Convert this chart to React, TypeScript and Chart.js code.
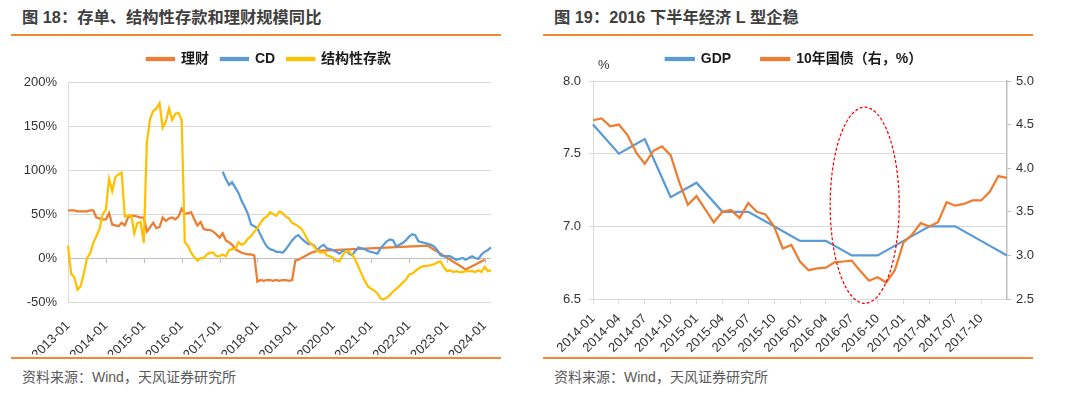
import React, { useEffect, useRef } from "react";
import { Chart, registerables } from "chart.js";

Chart.register(...registerables);

const FONT_FAMILY = '"Liberation Sans", "Noto Sans CJK SC", Arial, sans-serif';
const ORANGE = "#ED7D31";
const BLUE = "#5B9BD5";
const YELLOW = "#FFC000";
const GRID = "#d9d9d9";
const AXIS = "#bfbfbf";
const TICK_TEXT = "#333333";
const RULE = "#EE8A34";

// ---------- Figure 18 ----------
const fig18Title = "图 18：存单、结构性存款和理财规模同比";
const fig18Source = "资料来源：Wind，天风证券研究所";
const fig18Legend = ["理财", "CD", "结构性存款"];
const fig18Months: string[] = [];
for (let y = 2013; y <= 2024; y++) {
  for (let m = 1; m <= 12; m++) {
    if (y === 2024 && m > 3) break;
    fig18Months.push(`${y}-${String(m).padStart(2, "0")}`);
  }
}
const fig18YRange = [-50, 200];
const fig18YStep = 50;

// 理财
const wealthYoY: (number | null)[] = [
  54, 54, 54, 53, 53, 53, 53, 54, 54, 46, 45, 44,
  44, 51, 38, 37, 36, 40, 37, 46, 48, 48, 47, 46,
  46, 30, 35, 40, 34, 35, 46, 42, 45, 46, 44, 47,
  56, 50, 51, 52, 44, 37, 41, 33, 32, 32, 30, 27,
  23, 28, 20, 18, 15, 10, 8, 6, 5, 4, 4, 3,
  -27, -25, -26, -25, -25, -26, -25, -26, -25, -25, -26, -25,
  -3, -2, 0, 2, 4, 6, 7, 8, null, null, null, null,
  null, null, null, null, null, null, null, null, null, null, null, null,
  null, null, null, null, null, null, null, null, null, null, null, null,
  null, null, null, null, null, null, 14, null, null, null, null, null,
  null, null, null, null, null, null, -13, null, null, null, null, null,
  -2, null, null,
];

// CD
const cdYoY: (number | null)[] = [
  null, null, null, null, null, null, null, null, null, null, null, null,
  null, null, null, null, null, null, null, null, null, null, null, null,
  null, null, null, null, null, null, null, null, null, null, null, null,
  null, null, null, null, null, null, null, null, null, null, null, null,
  null, 98, 90, 83, 86, 80, 74, 65, 58, 50, 38, 36,
  34, 26, 19, 13, 10, 9, 7, 7, 6, 10, 15, 20,
  24, 26, 22, 19, 16, 16, 14, 9, 13, 15, 11, 10,
  9, 7, 5, 8, 9, 5, 3, 8, 12, 11, 10, 8,
  7, 6, 5, 11, 15, 19, 21, 20, 13, 15, 17, 20,
  24, 27, 26, 19, 18, 17, 16, 15, 13, 9, 3, 2,
  2, 2, 0, -2, -1, 0, -2, 0, 2, 0, -1, 4,
  7, 9, 12,
];

// 结构性存款
const structDepositYoY: (number | null)[] = [
  14, -18, -22, -36, -32, -18, 0, 5, 17, 25, 33, 50,
  55, 90, 76, 92, 95, 97, 47, 48, 49, 28, 40, 41,
  17, 132, 158, 167, 170, 176, 148, 155, 170, 157, 164, 165,
  157, 18, 14, 6, 1, -3, 0, 0, 4, 6, 6, 2,
  2, 4, 2, 9, 10, 10, 18, 15, 17, 22, 25, 30,
  34, 40, 45, 47, 52, 50, 48, 53, 51, 47, 45, 40,
  38, 36, 33, 27, 20, 16, 13, 8, 6, 7, 3, 2,
  0, -3, -4, 3, 8, 7, 4, -2, -10, -18, -26, -32,
  -35, -37, -40, -46, -47, -45, -42, -38, -35, -32, -28, -25,
  -19, -18, -15, -12, -10, -9, -9, -8, -7, -5, -4, -10,
  -15, -14, -16, -15, -16, -16, -15, -15, -15, -16, -14, -16,
  -10, -15, -14,
];

// ---------- Figure 19 ----------
const fig19Title = "图 19：2016 下半年经济 L 型企稳";
const fig19Source = "资料来源：Wind，天风证券研究所";
const fig19Legend = ["GDP", "10年国债（右，%）"];
const fig19Unit = "%";
const fig19Months: string[] = [];
for (let y = 2014; y <= 2018; y++) {
  for (let m = 1; m <= 12; m++) {
    if (y === 2018 && m > 1) break;
    fig19Months.push(`${y}-${String(m).padStart(2, "0")}`);
  }
}
const fig19LeftRange = [6.5, 8.0];
const fig19RightRange = [2.5, 5.0];

const gdpYoY: (number | null)[] = [
  7.7, null, null, 7.5, null, null, 7.6, null, null, 7.2, null, null,
  7.3, null, null, 7.1, null, null, 7.1, null, null, 7.0, null, null,
  6.9, null, null, 6.9, null, null, 6.8, null, null, 6.8, null, null,
  6.9, null, null, 7.0, null, null, 7.0, null, null, 6.9, null, null,
  6.8,
];

const bond10y: number[] = [
  4.55, 4.57, 4.48, 4.5, 4.38, 4.18, 4.05, 4.2, 4.25, 4.15, 3.84, 3.58,
  3.68, 3.53, 3.38, 3.5, 3.52, 3.43, 3.6, 3.5, 3.47, 3.33, 3.08, 3.12,
  2.93, 2.83, 2.85, 2.86, 2.92, 2.93, 2.94, 2.82, 2.71, 2.75, 2.69, 2.83,
  3.15, 3.24, 3.37, 3.33, 3.38, 3.61, 3.57, 3.59, 3.63, 3.63, 3.73, 3.91,
  3.89,
];

// highlight ellipse (category index range, left-axis value range)
const fig19HighlightX = [27.5, 35.5];
const fig19HighlightY = [6.47, 7.82];

function legendGap(extra: number) {
  return {
    id: "legendGap",
    afterInit(chart: any) {
      const legend = chart.legend;
      if (!legend || legend.__patched) return;
      const fit = legend.fit;
      legend.fit = function () {
        fit.call(this);
        this.height += extra;
      };
      legend.__patched = true;
    },
  };
}

const zeroTicks = {
  id: "zeroTicks",
  beforeDatasetsDraw(chart: any) {
    const { ctx, scales } = chart;
    const x = scales.x;
    const y = scales.y;
    const y0 = y.getPixelForValue(0);
    ctx.save();
    ctx.strokeStyle = AXIS;
    ctx.lineWidth = 1;
    ctx.beginPath();
    ctx.moveTo(x.left, Math.round(y0) + 0.5);
    ctx.lineTo(x.right, Math.round(y0) + 0.5);
    for (let i = 0; i < fig18Months.length; i += 12) {
      const px = Math.round(x.getPixelForValue(i)) + 0.5;
      ctx.moveTo(px, y0);
      ctx.lineTo(px, y0 + 5);
    }
    ctx.stroke();
    ctx.restore();
  },
};

const highlightEllipse = {
  id: "highlightEllipse",
  afterDatasetsDraw(chart: any) {
    const { ctx, scales } = chart;
    const x = scales.x;
    const y = scales.y;
    const x1 = x.getPixelForValue(fig19HighlightX[0]);
    const x2 = x.getPixelForValue(fig19HighlightX[1]);
    const y1 = y.getPixelForValue(fig19HighlightY[1]);
    const y2 = y.getPixelForValue(fig19HighlightY[0]);
    ctx.save();
    ctx.strokeStyle = "#FF0000";
    ctx.lineWidth = 1.25;
    ctx.setLineDash([3, 2]);
    ctx.beginPath();
    ctx.ellipse((x1 + x2) / 2, (y1 + y2) / 2, (x2 - x1) / 2, (y2 - y1) / 2, 0, 0, Math.PI * 2);
    ctx.stroke();
    ctx.restore();
  },
};

export default function App() {
  const leftRef = useRef<HTMLCanvasElement | null>(null);
  const rightRef = useRef<HTMLCanvasElement | null>(null);

  useEffect(() => {
    const tickFont = { family: FONT_FAMILY, size: 13 };
    const legendFont = { family: FONT_FAMILY, size: 14, weight: "bold" as const };

    const left = new Chart(leftRef.current!, {
      type: "line",
      data: {
        labels: fig18Months,
        datasets: [
          { label: fig18Legend[0], data: wealthYoY, borderColor: ORANGE, backgroundColor: ORANGE, order: 2, spanGaps: true },
          { label: fig18Legend[1], data: cdYoY, borderColor: BLUE, backgroundColor: BLUE, order: 1, spanGaps: true },
          { label: fig18Legend[2], data: structDepositYoY, borderColor: YELLOW, backgroundColor: YELLOW, order: 0, spanGaps: true },
        ],
      },
      options: {
        responsive: false,
        animation: false,
        elements: { point: { radius: 0 }, line: { borderWidth: 2.25, tension: 0 } },
        layout: { padding: { left: 0, right: 0, top: 0, bottom: 0 } },
        plugins: {
          legend: {
            position: "top",
            labels: {
              boxWidth: 27,
              boxHeight: 2,
              padding: 12,
              color: "#1a1a1a",
              font: legendFont,
              sort: (a: any, b: any) => a.datasetIndex - b.datasetIndex,
            },
          },
          tooltip: { enabled: false },
        },
        scales: {
          x: {
            grid: { display: false },
            border: { display: false },
            ticks: {
              autoSkip: false,
              minRotation: 45,
              maxRotation: 45,
              color: TICK_TEXT,
              font: tickFont,
              padding: 8,
              callback: (_v: any, i: number) => (i % 12 === 0 ? fig18Months[i] : null),
            },
            afterFit: (s: any) => {
              s.height = 53;
            },
          },
          y: {
            min: fig18YRange[0],
            max: fig18YRange[1],
            ticks: {
              stepSize: fig18YStep,
              color: TICK_TEXT,
              font: tickFont,
              padding: 11,
              callback: (v: any) => `${v}%`,
            },
            grid: { color: GRID, drawTicks: false },
            border: { display: true, color: GRID },
            afterFit: (s: any) => {
              s.width = 68;
            },
          },
          y2: {
            position: "right",
            display: true,
            grid: { display: false },
            border: { display: false },
            ticks: { display: false },
            afterFit: (s: any) => {
              s.width = 47;
            },
          },
        },
      } as any,
      plugins: [legendGap(6), zeroTicks],
    });

    const right = new Chart(rightRef.current!, {
      type: "line",
      data: {
        labels: fig19Months,
        datasets: [
          { label: fig19Legend[0], data: gdpYoY, borderColor: BLUE, backgroundColor: BLUE, yAxisID: "y", order: 1, spanGaps: true },
          { label: fig19Legend[1], data: bond10y, borderColor: ORANGE, backgroundColor: ORANGE, yAxisID: "y1", order: 0, spanGaps: true },
        ],
      },
      options: {
        responsive: false,
        animation: false,
        elements: { point: { radius: 0 }, line: { borderWidth: 2.25, tension: 0 } },
        layout: { padding: { left: 0, right: 0, top: -18, bottom: 0 } },
        plugins: {
          legend: {
            position: "top",
            labels: {
              boxWidth: 28,
              boxHeight: 2,
              padding: 30,
              color: "#1a1a1a",
              font: legendFont,
              sort: (a: any, b: any) => a.datasetIndex - b.datasetIndex,
            },
          },
          tooltip: { enabled: false },
        },
        scales: {
          x: {
            grid: { display: true, drawOnChartArea: false, drawTicks: true, tickLength: 5, color: GRID },
            border: { display: true, color: GRID },
            ticks: {
              autoSkip: false,
              minRotation: 45,
              maxRotation: 45,
              color: TICK_TEXT,
              font: tickFont,
              padding: 7,
              callback: (_v: any, i: number) => (i % 3 === 0 && i < 48 ? fig19Months[i] : null),
            },
            afterFit: (s: any) => {
              s.height = 56;
            },
          },
          y: {
            position: "left",
            min: fig19LeftRange[0],
            max: fig19LeftRange[1],
            ticks: {
              stepSize: 0.5,
              color: TICK_TEXT,
              font: tickFont,
              padding: 8,
              callback: (v: any) => Number(v).toFixed(1),
            },
            grid: { color: GRID, tickLength: 4 },
            border: { display: true, color: GRID },
            afterFit: (s: any) => {
              s.width = 63;
            },
          },
          y1: {
            position: "right",
            min: fig19RightRange[0],
            max: fig19RightRange[1],
            ticks: {
              stepSize: 0.5,
              color: TICK_TEXT,
              font: tickFont,
              padding: 5,
              callback: (v: any) => Number(v).toFixed(1),
            },
            grid: { drawOnChartArea: false, color: AXIS, tickLength: 4 },
            border: { display: true, color: AXIS, width: 1.5 },
            afterFit: (s: any) => {
              s.width = 51;
            },
          },
        },
      } as any,
      plugins: [legendGap(5), highlightEllipse],
    });

    return () => {
      left.destroy();
      right.destroy();
    };
  }, []);

  const titleStyle: React.CSSProperties = {
    position: "absolute",
    top: 7,
    fontSize: 16.3,
    fontWeight: "bold",
    color: "#404040",
    whiteSpace: "nowrap",
    lineHeight: "20px",
  };
  const sourceStyle: React.CSSProperties = {
    position: "absolute",
    top: 368,
    fontSize: 14,
    color: "#595959",
    whiteSpace: "nowrap",
    lineHeight: "18px",
  };
  const ruleStyle: React.CSSProperties = {
    position: "absolute",
    height: 2,
    width: 490,
    background: RULE,
  };

  return (
    <div
      style={{
        position: "absolute",
        left: 0,
        top: 0,
        width: 1080,
        height: 398,
        background: "#ffffff",
        overflow: "hidden",
        fontFamily: FONT_FAMILY,
      }}
    >
      <div style={{ ...titleStyle, left: 22 }}>{fig18Title}</div>
      <div style={{ ...ruleStyle, left: 11, top: 34 }} />
      <canvas
        ref={leftRef}
        width={538}
        height={315}
        style={{ position: "absolute", left: 0, top: 40, width: 538, height: 315 }}
      />
      <div style={{ ...ruleStyle, left: 11, top: 357 }} />
      <div style={{ ...sourceStyle, left: 22 }}>{fig18Source}</div>

      <div style={{ ...titleStyle, left: 554 }}>{fig19Title}</div>
      <div style={{ ...ruleStyle, left: 543, top: 34 }} />
      <canvas
        ref={rightRef}
        width={528}
        height={315}
        style={{ position: "absolute", left: 530, top: 40, width: 528, height: 315 }}
      />
      <div
        style={{
          position: "absolute",
          left: 598,
          top: 57,
          fontSize: 13,
          color: TICK_TEXT,
          lineHeight: "16px",
        }}
      >
        {fig19Unit}
      </div>
      <div style={{ ...ruleStyle, left: 543, top: 357 }} />
      <div style={{ ...sourceStyle, left: 554 }}>{fig19Source}</div>
    </div>
  );
}
